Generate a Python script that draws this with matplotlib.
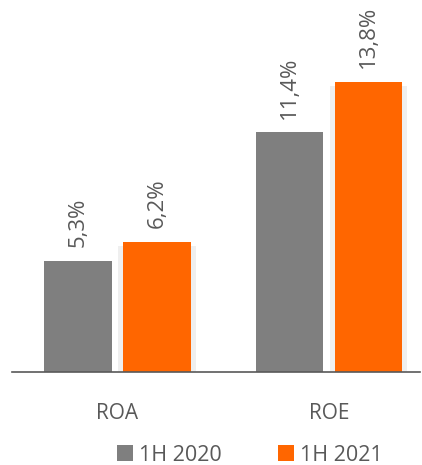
import matplotlib
matplotlib.use("Agg")
import matplotlib.pyplot as plt
from matplotlib.patches import Rectangle, Patch
import numpy as np

plt.rcParams['font.family'] = ['Open Sans', 'DejaVu Sans']

categories = ["ROA", "ROE"]
series_names = ["1H 2020", "1H 2021"]
values_2020 = [5.3, 11.4]
values_2021 = [6.2, 13.8]
labels_2020 = ["5,3%", "11,4%"]
labels_2021 = ["6,2%", "13,8%"]

c_gray = "#7f7f7f"
c_orange = "#ff6600"
txt = "#595959"

fig = plt.figure(figsize=(4.22, 4.65), dpi=100)
ax = fig.add_axes([12/422, 1 - 372/465, 408/422, 372/465])

x = np.arange(len(categories))
w = 0.32
off = 0.187
ppx = 211.5  # pixels per x unit

# soft shadow behind orange bars
for xi, v in zip(x + off, values_2021):
    sx = 5 / ppx
    ax.add_patch(Rectangle((xi - w/2 - sx, 0), w + 2*sx, v - 0.2,
                           facecolor="#efefef", edgecolor="none", zorder=1))

b1 = ax.bar(x - off, values_2020, w, color=c_gray, zorder=2)
b2 = ax.bar(x + off, values_2021, w, color=c_orange, zorder=2)

for bars, labs in ((b1, labels_2020), (b2, labels_2021)):
    for r, lab in zip(bars, labs):
        ax.annotate(lab, (r.get_x() + r.get_width()/2, r.get_height()),
                    xytext=(0, 10), textcoords="offset points",
                    rotation=90, ha="center", va="bottom",
                    fontsize=16, color=txt)

ax.set_xlim(-0.499, 1.43)
ax.set_ylim(0, 17.7)
for s in ("top", "right", "left"):
    ax.spines[s].set_visible(False)
ax.spines["bottom"].set_color("#595959")
ax.spines["bottom"].set_linewidth(1.2)
ax.set_yticks([])
ax.set_xticks(x)
ax.set_xticklabels(categories, fontsize=15, color=txt)
ax.tick_params(axis="x", length=0, pad=22)

handles = [Patch(facecolor=c_gray), Patch(facecolor=c_orange)]
fig.legend(handles, series_names, loc="center", bbox_to_anchor=(0.592, 1 - 455/465),
           ncol=2, frameon=False, fontsize=15.5, labelcolor=txt,
           handlelength=0.75, handleheight=0.75, handletextpad=0.3, columnspacing=2.6)

fig.savefig("out.png", dpi=100)
